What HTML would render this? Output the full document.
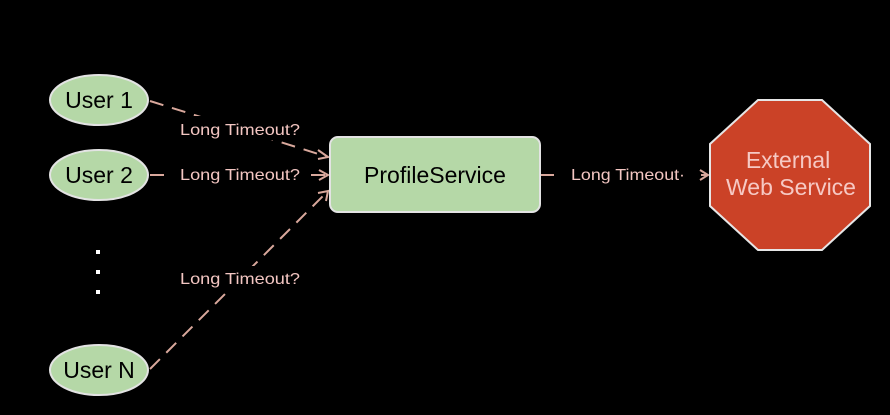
<!DOCTYPE html>
<html><head><meta charset="utf-8"><style>
html,body{margin:0;padding:0;background:#000;}
svg{display:block;}
text{font-family:"Liberation Sans",Arial,sans-serif;}
</style></head><body>
<svg width="890" height="415" viewBox="0 0 890 415" xmlns="http://www.w3.org/2000/svg">
<rect width="890" height="415" fill="#000"/>
<g stroke="#d9a89c" stroke-width="2" fill="none">
<line x1="150" y1="101" x2="328" y2="157" stroke-dasharray="14,9"/>
<line x1="150" y1="175" x2="328" y2="175" stroke-dasharray="14,9"/>
<line x1="150" y1="369" x2="328" y2="191" stroke-dasharray="14,9"/>
<line x1="540" y1="175" x2="708" y2="175" stroke-dasharray="14,9"/>
<polyline points="318,150 328,157 318,159"/>
<polyline points="319,170 328,175 319,180"/>
<polyline points="318,193 328,191 326,201"/>
<polyline points="700,170 708,175 700,180"/>
</g>
<g fill="#000">
<rect x="174" y="116" width="132" height="24"/>
<rect x="165" y="163" width="144" height="24"/>
<rect x="174" y="266" width="132" height="24"/>
<rect x="558" y="163" width="134" height="24"/>
</g>
<g fill="#f3c6c2" font-size="16">
<text x="180" y="135" textLength="120" lengthAdjust="spacingAndGlyphs">Long Timeout?</text>
<text x="180" y="180" textLength="120" lengthAdjust="spacingAndGlyphs">Long Timeout?</text>
<text x="180" y="284" textLength="120" lengthAdjust="spacingAndGlyphs">Long Timeout?</text>
<text x="571" y="180" textLength="114" lengthAdjust="spacingAndGlyphs">Long Timeout·</text>
</g>
<g fill="#b5d8a7" stroke="#e3e3e3" stroke-width="2">
<ellipse cx="99" cy="100" rx="49" ry="25"/>
<ellipse cx="99" cy="175" rx="49" ry="25"/>
<ellipse cx="99" cy="370" rx="49" ry="25"/>
<rect x="330" y="137" width="210" height="75" rx="8"/>
</g>
<g fill="#000" font-size="23" text-anchor="middle">
<text x="99" y="108">User 1</text>
<text x="99" y="183">User 2</text>
<text x="99" y="378">User N</text>
<text x="435" y="183">ProfileService</text>
</g>
<g fill="#fff">
<rect x="96" y="250" width="4" height="4"/>
<rect x="96" y="270" width="4" height="4"/>
<rect x="96" y="290" width="4" height="4"/>
</g>
<polygon points="758,100 822,100 870,144 870,206 822,250 758,250 710,206 710,144" fill="#cb4227" stroke="#e6e6e6" stroke-width="2"/>
<g fill="#f6c9c4" font-size="23" text-anchor="middle">
<text x="788" y="168">External</text>
<text x="791" y="195">Web Service</text>
</g>
</svg>
</body></html>
